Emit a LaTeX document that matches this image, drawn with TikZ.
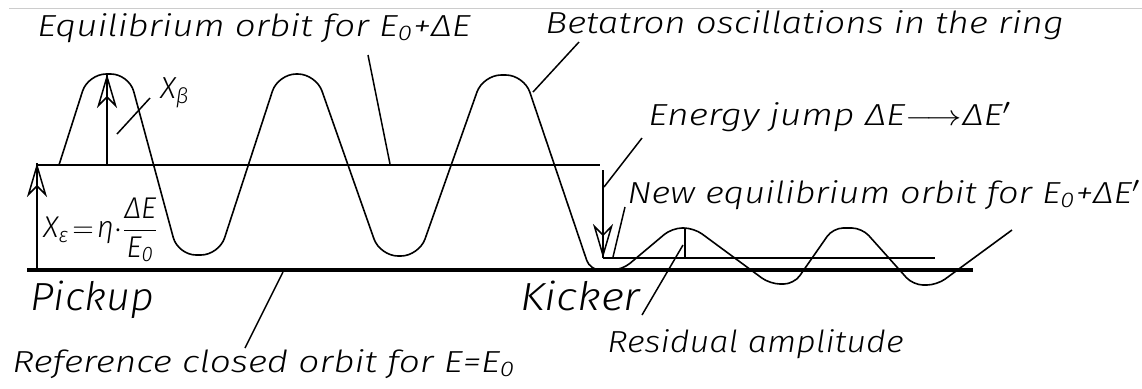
\documentclass[tikz,border=0pt]{standalone}
\usepackage{amsmath}
\usepackage{graphicx}
\usepackage{fontspec}
\setmainfont{Fira Sans}[UprightFont=* Light Italic]
\usetikzlibrary{arrows.meta}

\newcommand{\widetext}[2]{\scalebox{#1}[1]{#2}}

\begin{document}
\begin{tikzpicture}[
    x=0.5pt, y=-0.5pt,
    orbit/.style={line width=0.8pt},
    refline/.style={line width=2pt},
    leader/.style={line width=0.75pt},
    openarrow/.style={
        -{Stealth[open, length=17pt, width=10pt, inset=5pt]},
        line width=0.75pt
    },
    lbl/.style={
        anchor=base west,
        inner sep=0pt,
        font=\fontsize{15.2}{18}\selectfont
    },
    biglbl/.style={
        lbl,
        font=\fontsize{19.6}{22}\selectfont
    }
]

\useasboundingbox (0,0) rectangle (1142,388);

% === Frame line ===
\draw[gray!40, line width=0.5pt] (9,8) -- (1142,8);

% === Orbits ===
\coordinate (refL) at (27,270);
\coordinate (refR) at (973,270);
\draw[refline] (refL) -- (refR);
\coordinate (eqL) at (37,165);
\coordinate (eqR) at (600,165);
\draw[orbit] (eqL) -- (eqR);
\coordinate (neqL) at (603,258);
\coordinate (neqR) at (935,258);
\draw[orbit, line width=0.6pt] (neqL) -- (neqR);

% === Betatron oscillations before the kick ===
\draw[orbit, rounded corners=9pt] (59,165) -- (88,74) -- (129,74) -- (178,255)
    -- (219,255) -- (278,74) -- (316,74) -- (380,256) -- (419,256) -- (483,75)
    -- (524,75) [rounded corners=5pt] -- (590,270) -- (600,270);

% === Oscillations after the kick ===
\draw[orbit, rounded corners=5pt] (600,270) -- (622,270) -- (672,228) -- (694,228)
    -- (770,284) -- (794,284) -- (833,228) -- (862,228) -- (913,285)
    -- (937,285) -- (1012,230);

% === Amplitude arrows ===
\coordinate (epsBase) at (37,270);
\coordinate (epsTip) at (37,163);
\draw[leader] (epsBase) -- (epsTip);
\draw[openarrow] (epsBase) -- (epsTip);
\coordinate (betaBase) at (107,165);
\coordinate (betaTip) at (107,74);
\draw[leader] (betaBase) -- (betaTip);
\draw[openarrow] (betaBase) -- (betaTip);
\coordinate (kickTop) at (603,170);
\coordinate (kickTip) at (603,258);
\draw[leader] (kickTop) -- (kickTip);
\draw[openarrow] (kickTop) -- (kickTip);
\coordinate (resTop) at (685,228);
\coordinate (resBot) at (685,258);
\draw[leader] (resTop) -- (resBot);

% === Labels ===
\node[lbl] (eqlbl) at (37,36) {\widetext{1.21}{Equilibrium orbit for E\textsubscript{0}+ΔE}};
\node[lbl] (betalbl) at (545,33) {\widetext{1.21}{Betatron oscillations in the ring}};
\node[lbl] (jumplbl) at (648,125) {\widetext{1.23}{Energy jump ΔE$\longrightarrow$ΔE$'$}};
\node[lbl] (neqlbl) at (627,203) {\widetext{1.19}{New equilibrium orbit for E\textsubscript{0}+ΔE$'$}};
\node[biglbl] (pickup) at (30,310) {\widetext{1.06}{Pickup}};
\node[biglbl] (kicker) at (520,310) {\widetext{1.14}{Kicker}};
\node[lbl] (reflbl) at (12,372) {\widetext{1.22}{Reference closed orbit for E=E\textsubscript{0}}};
\node[lbl] (reslbl) at (607,352) {\widetext{1.13}{Residual amplitude}};
\node[lbl] (xbeta) at (160,98) {X\textsubscript{β}};
\node[inner sep=0pt, font=\fontsize{15}{17}\selectfont] (xeps) at (101,230)
    {\widetext{0.98}{$\text{X}_{\text{ε}}\!=\!\text{η}{\cdot}\dfrac{\text{ΔE}}{\text{E}_{\text{0}}}$}};

% === Leaders ===
\coordinate (eqA) at (368,55);
\coordinate (eqB) at (390,164);
\draw[leader] (eqA) -- (eqB);
\coordinate (betaA) at (579,42);
\coordinate (betaB) at (533,92);
\draw[leader] (betaA) -- (betaB);
\coordinate (jumpA) at (642,138);
\coordinate (jumpB) at (604,187);
\draw[leader] (jumpA) -- (jumpB);
\coordinate (neqA) at (625,207);
\coordinate (neqB) at (613,257);
\draw[leader] (neqA) -- (neqB);
\coordinate (resA) at (683,245);
\coordinate (resB) at (642,315);
\draw[leader] (resA) -- (resB);
\coordinate (refA) at (245,348);
\coordinate (refB) at (283,272);
\draw[leader] (refA) -- (refB);
\coordinate (xbA) at (117,134);
\coordinate (xbB) at (150,98);
\draw[leader] (xbA) -- (xbB);

\end{tikzpicture}
\end{document}
